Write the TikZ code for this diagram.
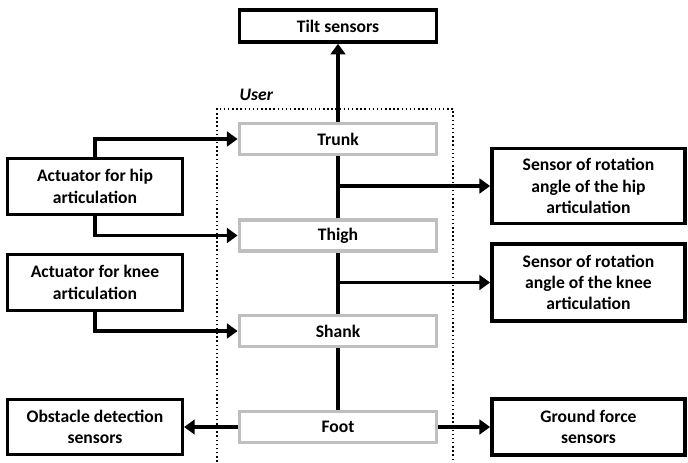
\documentclass[tikz,border=0pt]{standalone}
\usepackage{fontspec}
\setmainfont{Carlito}
\usetikzlibrary{arrows.meta}
\definecolor{partgray}{HTML}{BFBFBF}
\tikzset{
  labelfont/.style={font=\bfseries\fontsize{13.2}{16}\selectfont},
  blockbox/.style={draw=black, line width=2.6pt, fill=white, align=center,
    labelfont, inner sep=0pt},
  partbox/.style={draw=partgray, line width=2.6pt, fill=white,
    labelfont, inner sep=0pt,
    minimum width=148pt, minimum height=23pt},
  link/.style={line width=2.8pt},
  flow/.style={link, -{Triangle[length=8pt,width=11pt]}},
}
\begin{document}
\begin{tikzpicture}[x={(0.75pt,0)}, y={(0,-0.75pt)}]
\useasboundingbox (0,0) rectangle (688,462);
\begin{scope}
\clip (0,0) rectangle (688,462);
% user boundary, open towards the bottom
\draw[dotted, line width=1.1pt] (217,470) -- (217,109) -- (453,109) -- (453,470);
\end{scope}
\node[font=\bfseries\itshape\fontsize{13.2}{16}\selectfont, anchor=west] (userlbl) at (235,95) {User};

% body segments
\node[partbox] (trunk) at (338,139) {Trunk};
\node[partbox] (thigh) at (338,235.5) {Thigh};
\node[partbox] (shank) at (338,331) {Shank};
\node[partbox] (foot)  at (338,427) {Foot};

% sensors and actuators
\node[blockbox, minimum width=148pt, minimum height=24pt] (tilt) at (338,26) {Tilt sensors};
\node[blockbox, minimum width=131pt, minimum height=42pt] (acthip) at (95,186.5) {Actuator for hip\\articulation};
\node[blockbox, minimum width=131pt, minimum height=42pt] (actknee) at (95,282.5) {Actuator for knee\\articulation};
\node[blockbox, minimum width=131pt, minimum height=41pt] (obst) at (95,427) {Obstacle detection\\sensors};
\node[blockbox, minimum width=145pt, minimum height=56pt] (senhip) at (588.5,186) {Sensor of rotation\\angle of the hip\\articulation};
\node[blockbox, minimum width=145pt, minimum height=58pt] (senknee) at (588.5,282.5) {Sensor of rotation\\angle of the knee\\articulation};
\node[blockbox, minimum width=145pt, minimum height=42pt] (ground) at (588.5,427) {Ground force\\sensors};

% the leg chain
\draw[link] (foot.north) -- (shank.south);
\draw[link] (shank.north) -- (thigh.south);
\draw[link] (thigh.north) -- (trunk.south);
\draw[flow] (trunk.north) -- (tilt.south);

% angle sensing branches
\draw[flow] (trunk.south |- senhip.west) -- (senhip.west);
\draw[flow] (thigh.south |- senknee.west) -- (senknee.west);

% actuation
\draw[flow] (acthip.north) |- (trunk.west);
\draw[flow] (acthip.south) |- (thigh.west);
\draw[flow] (actknee.south) |- (shank.west);

% foot sensing
\draw[flow] (foot.west) -- (obst.east);
\draw[flow] (foot.east) -- (ground.west);
\end{tikzpicture}
\end{document}
